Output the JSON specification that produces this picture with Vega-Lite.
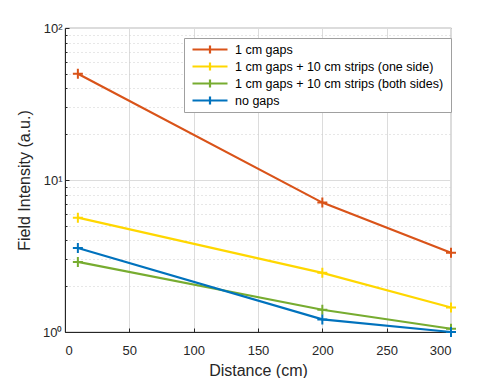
{
  "$schema": "https://vega.github.io/schema/vega-lite/v6.json",
  "autosize": {"type": "none"},
  "padding": {"left": 65, "top": 28, "right": 47, "bottom": 46},
  "width": 386,
  "height": 304,
  "background": "white",
  "config": {
    "font": "Liberation Sans",
    "view": {"stroke": "#262626", "strokeWidth": 0.8},
    "axis": {"labelColor": "#262626", "titleColor": "#262626", "labelFontSize": 13, "titleFontSize": 16, "titleFontWeight": "normal", "domainColor": "#262626", "tickColor": "#262626"}
  },
  "data": {
    "values": [
      {"series": "1 cm gaps", "distance": 10, "intensity": 50},
      {"series": "1 cm gaps", "distance": 200, "intensity": 7.1},
      {"series": "1 cm gaps", "distance": 300, "intensity": 3.32},
      {"series": "1 cm gaps + 10 cm strips (one side)", "distance": 10, "intensity": 5.65},
      {"series": "1 cm gaps + 10 cm strips (one side)", "distance": 200, "intensity": 2.45},
      {"series": "1 cm gaps + 10 cm strips (one side)", "distance": 300, "intensity": 1.45},
      {"series": "1 cm gaps + 10 cm strips (both sides)", "distance": 10, "intensity": 2.89},
      {"series": "1 cm gaps + 10 cm strips (both sides)", "distance": 200, "intensity": 1.4},
      {"series": "1 cm gaps + 10 cm strips (both sides)", "distance": 300, "intensity": 1.05},
      {"series": "no gaps", "distance": 10, "intensity": 3.57},
      {"series": "no gaps", "distance": 200, "intensity": 1.21},
      {"series": "no gaps", "distance": 300, "intensity": 1.0}
    ]
  },
  "encoding": {
    "x": {
      "field": "distance", "type": "quantitative",
      "scale": {"domain": [0, 300], "nice": false},
      "axis": {"title": "Distance (cm)", "values": [0, 50, 100, 150, 200, 250, 300], "grid": true, "gridColor": "#dcdcdc", "tickSize": -4, "labelPadding": 16, "titlePadding": 5}
    },
    "y": {
      "field": "intensity", "type": "quantitative",
      "scale": {"type": "log", "domain": [1, 100], "nice": false},
      "axis": {
        "title": "Field Intensity (a.u.)",
        "values": [1, 2, 3, 4, 5, 6, 7, 8, 9, 10, 20, 30, 40, 50, 60, 70, 80, 90, 100],
        "labelExpr": "datum.value == 1 ? '10⁰' : datum.value == 10 ? '10¹' : datum.value == 100 ? '10²' : ''",
        "grid": true,
        "gridColor": {"condition": {"test": "datum.value == 1 || datum.value == 10 || datum.value == 100", "value": "#dcdcdc"}, "value": "#cfcfcf"},
        "gridDash": {"condition": {"test": "datum.value == 1 || datum.value == 10 || datum.value == 100", "value": []}, "value": [1, 3]},
        "tickSize": {"condition": {"test": "datum.value == 1 || datum.value == 10 || datum.value == 100", "value": -4}, "value": -2},
        "labelPadding": 7,
        "titlePadding": 10
      }
    },
    "color": {
      "field": "series", "type": "nominal",
      "scale": {
        "domain": ["1 cm gaps", "1 cm gaps + 10 cm strips (one side)", "1 cm gaps + 10 cm strips (both sides)", "no gaps"],
        "range": ["#D95319", "#FFD700", "#77AC30", "#0072BD"]
      },
      "legend": {
        "title": "\u00a0",
        "titleOrient": "right",
        "titleFontSize": 12,
        "titlePadding": 5,
        "orient": "none",
        "legendX": 119,
        "legendY": 10,
        "fillColor": "white",
        "strokeColor": "#a0a0a0",
        "padding": 3,
        "labelFontSize": 12.5,
        "labelColor": "#000000",
        "labelLimit": 400,
        "rowPadding": 0,
        "symbolType": "M-2.5,0H2.5M0,-0.57V0.57",
        "symbolSize": 196,
        "symbolStrokeWidth": 2.2,
        "symbolFillColor": "transparent",
        "symbolOffset": 14.5,
        "labelOffset": 16.5
      }
    }
  },
  "layer": [
    {"mark": {"type": "line", "strokeWidth": 2.2}},
    {"mark": {"type": "point", "shape": "M-1,0H1M0,-1V1", "size": 100, "filled": false, "strokeWidth": 2, "opacity": 1}}
  ]
}
